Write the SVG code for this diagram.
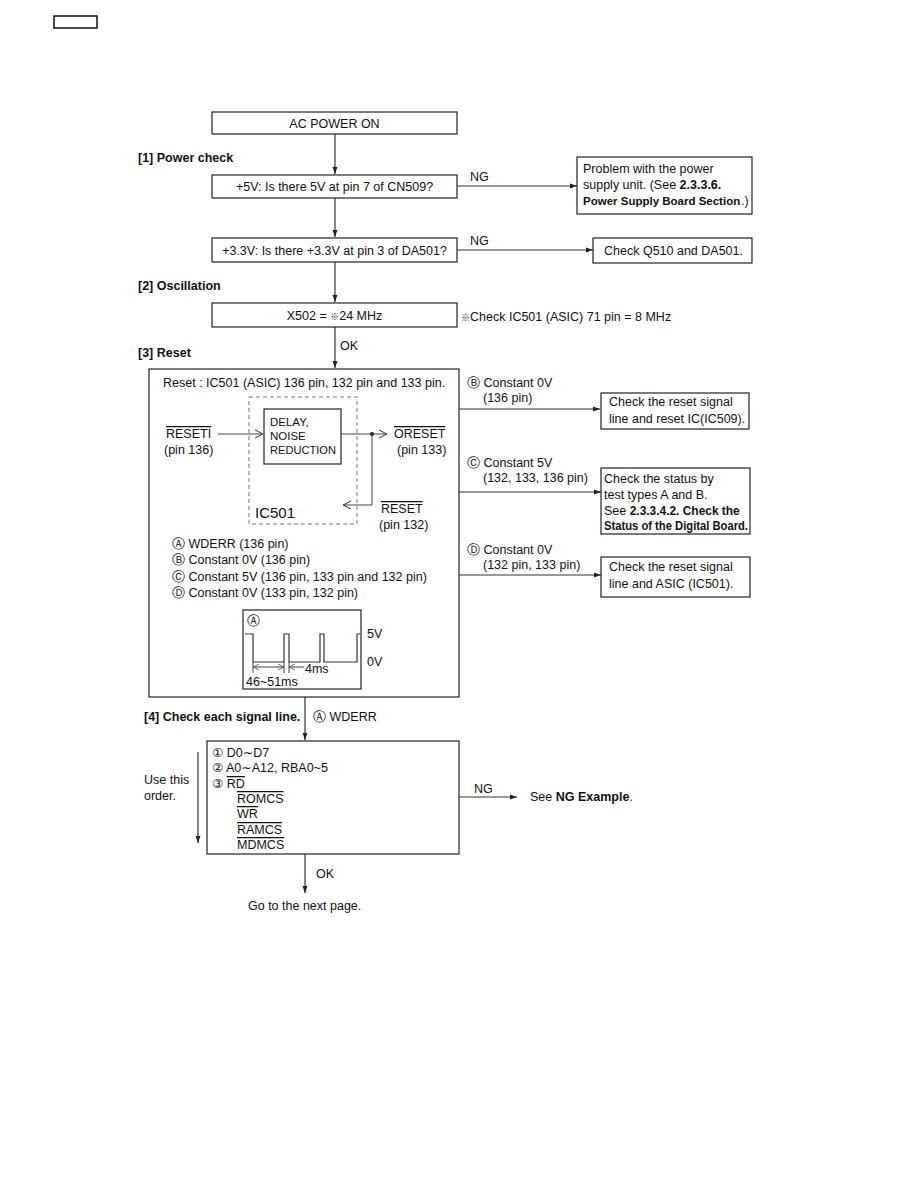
<svg xmlns="http://www.w3.org/2000/svg" width="918" height="1188" viewBox="0 0 918 1188">
<defs>
<style>
text{font-family:"Liberation Sans",Arial,sans-serif;font-size:12.5px;fill:#111}
.b{font-weight:bold}
.c{text-anchor:middle}
.sym{font-family:"DejaVu Sans","Liberation Sans",sans-serif;font-size:12.5px}
.ol{text-decoration:overline}
.box{fill:#fff;stroke:#222;stroke-width:1.2}
.ln{fill:none;stroke:#333;stroke-width:1.2}
.op{fill:none;stroke:#444;stroke-width:1}
.sm{font-size:11.5px}
.lg{font-size:15px}
</style>
<marker id="ah" viewBox="0 0 10 10" refX="10" refY="5" markerWidth="9" markerHeight="7" markerUnits="userSpaceOnUse" orient="auto">
<path d="M0,1.5 L10,5 L0,8.5 z" fill="#222"/>
</marker>
<marker id="oa" viewBox="0 0 10 10" refX="10" refY="5" markerWidth="8" markerHeight="10" markerUnits="userSpaceOnUse" orient="auto">
<path d="M0,0 L10,5 L0,10" fill="none" stroke="#444" stroke-width="1.3"/>
</marker>
<marker id="oas" viewBox="0 0 10 10" refX="10" refY="5" markerWidth="6" markerHeight="7" markerUnits="userSpaceOnUse" orient="auto-start-reverse">
<path d="M0,0 L10,5 L0,10" fill="none" stroke="#444" stroke-width="1.3"/>
</marker>
</defs>
<rect width="918" height="1188" fill="#fff"/>
<rect x="54" y="16" width="43" height="12" fill="none" stroke="#111" stroke-width="1.5"/>

<g id="connectors">
<line class="ln" x1="335" y1="134" x2="335" y2="174" marker-end="url(#ah)"/>
<line class="ln" x1="335" y1="198" x2="335" y2="237" marker-end="url(#ah)"/>
<line class="ln" x1="335" y1="262" x2="335" y2="302" marker-end="url(#ah)"/>
<line class="ln" x1="335" y1="327" x2="335" y2="368" marker-end="url(#ah)"/>
<line class="ln" x1="457" y1="186" x2="577" y2="186" marker-end="url(#ah)"/>
<line class="ln" x1="457" y1="250" x2="593" y2="250" marker-end="url(#ah)"/>
<line class="ln" x1="459" y1="409" x2="600" y2="409" marker-end="url(#ah)"/>
<line class="ln" x1="459" y1="492" x2="601" y2="492" marker-end="url(#ah)"/>
<line class="ln" x1="459" y1="575" x2="601" y2="575" marker-end="url(#ah)"/>
<line class="ln" x1="305" y1="697" x2="305" y2="740" marker-end="url(#ah)"/>
<line class="ln" x1="459" y1="797" x2="517" y2="797" marker-end="url(#ah)"/>
<line class="ln" x1="305" y1="854" x2="305" y2="893" marker-end="url(#ah)"/>
<line class="ln" x1="198" y1="752" x2="198" y2="843" marker-end="url(#ah)"/>
<text x="470" y="181">NG</text>
<text x="470" y="245">NG</text>
<text x="340" y="350">OK</text>
<text x="474" y="793">NG</text>
<text x="316" y="878">OK</text>
</g>

<g id="labels">
<text class="b" x="138" y="162">[1] Power check</text>
<text class="b" x="138" y="290">[2] Oscillation</text>
<text class="b" x="138" y="357">[3] Reset</text>
<text class="b" x="144" y="721">[4] Check each signal line.</text>
<text x="313" y="721"><tspan class="sym">Ⓐ</tspan> WDERR</text>
<text x="461" y="321"><tspan font-size="9" font-family="'Noto Sans CJK JP',sans-serif">※</tspan>Check IC501 (ASIC) 71 pin = 8 MHz</text>
<text x="144" y="784">Use this</text>
<text x="144" y="800">order.</text>
<text x="530" y="801">See <tspan class="b">NG Example</tspan>.</text>
<text x="248" y="910">Go to the next page.</text>
</g>

<g id="n-acpower">
<rect class="box" x="212" y="112" width="245" height="22"/>
<text class="c" x="334.5" y="127.5">AC POWER ON</text>
</g>
<g id="n-5v">
<rect class="box" x="212" y="175" width="245" height="23"/>
<text class="c" x="334.5" y="191">+5V: Is there 5V at pin 7 of CN509?</text>
</g>
<g id="n-33v">
<rect class="box" x="212" y="238" width="245" height="24"/>
<text class="c" x="334.5" y="255">+3.3V: Is there +3.3V at pin 3 of DA501?</text>
</g>
<g id="n-x502">
<rect class="box" x="212" y="303" width="245" height="24"/>
<text class="c" x="334.5" y="320">X502 = <tspan font-size="9" font-family="'Noto Sans CJK JP',sans-serif">※</tspan>24 MHz</text>
</g>
<g id="n-power">
<rect class="box" x="577" y="157" width="175" height="57"/>
<text x="583" y="173">Problem with the power</text>
<text x="583" y="189">supply unit. (See <tspan class="b">2.3.3.6.</tspan></text>
<text x="583" y="205" class="b sm">Power Supply Board Section</text>
<text x="741" y="205">.)</text>
</g>
<g id="n-q510">
<rect class="box" x="593" y="238" width="159" height="25"/>
<text x="604" y="255">Check Q510 and DA501.</text>
</g>

<g id="n-reset">
<rect class="box" x="149" y="369" width="310" height="328"/>
<text x="163" y="387">Reset : IC501 (ASIC) 136 pin, 132 pin and 133 pin.</text>
<rect x="249" y="397" width="108" height="127" fill="none" stroke="#777" stroke-width="1" stroke-dasharray="4,3"/>
<rect class="box" x="264" y="409" width="77" height="55"/>
<text class="sm" x="270" y="426">DELAY,</text>
<text class="sm" x="270" y="440">NOISE</text>
<text class="sm" x="270" y="454" textLength="66" lengthAdjust="spacingAndGlyphs">REDUCTION</text>
<text class="ol" x="166" y="438">RESETI</text>
<text x="164" y="454">(pin 136)</text>
<line class="op" x1="218" y1="434" x2="263" y2="434" marker-end="url(#oa)"/>
<line class="op" x1="341" y1="434" x2="387" y2="434" marker-end="url(#oa)"/>
<circle cx="372" cy="434" r="2" fill="#222"/>
<path class="op" d="M372,434 V505 H343" marker-end="url(#oa)"/>
<text class="ol" x="394" y="438">ORESET</text>
<text x="397" y="454">(pin 133)</text>
<text class="lg" x="255" y="518">IC501</text>
<text class="ol" x="381" y="513">RESET</text>
<text x="379" y="529">(pin 132)</text>
<text x="172" y="548"><tspan class="sym">Ⓐ</tspan> WDERR (136 pin)</text>
<text x="172" y="564"><tspan class="sym">Ⓑ</tspan> Constant 0V (136 pin)</text>
<text x="172" y="581"><tspan class="sym">Ⓒ</tspan> Constant 5V (136 pin, 133 pin and 132 pin)</text>
<text x="172" y="597"><tspan class="sym">Ⓓ</tspan> Constant 0V (133 pin, 132 pin)</text>
<rect class="box" x="243" y="610" width="118" height="79"/>
<text class="sym" x="247" y="625">Ⓐ</text>
<path class="ln" d="M245,634 H253 V662 H284 V634 H289 V662 H320 V634 H324 V662 H357 V634 H360"/>
<path class="op" d="M253,662 V673 M284,662 V673 M289,662 V673"/>
<line class="op" x1="253" y1="667" x2="284" y2="667" marker-start="url(#oas)" marker-end="url(#oas)"/>
<line class="op" x1="304" y1="667" x2="289" y2="667" marker-end="url(#oas)"/>
<text x="305" y="673">4ms</text>
<text x="246" y="686">46~51ms</text>
<text x="367" y="638">5V</text>
<text x="367" y="666">0V</text>
</g>

<g id="n-b">
<text x="467" y="387"><tspan class="sym">Ⓑ</tspan> Constant 0V</text>
<text x="483" y="402">(136 pin)</text>
<rect class="box" x="601" y="393" width="148" height="36"/>
<text x="609" y="406">Check the reset signal</text>
<text x="609" y="423">line and reset IC(IC509).</text>
</g>
<g id="n-c">
<text x="467" y="467"><tspan class="sym">Ⓒ</tspan> Constant 5V</text>
<text x="483" y="482">(132, 133, 136 pin)</text>
<rect class="box" x="601" y="468" width="149" height="66"/>
<text x="604" y="483">Check the status by</text>
<text x="604" y="499">test types A and B.</text>
<text x="604" y="515">See <tspan class="b" textLength="110" lengthAdjust="spacingAndGlyphs">2.3.3.4.2. Check the</tspan></text>
<text x="604" y="530" class="b" textLength="144" lengthAdjust="spacingAndGlyphs">Status of the Digital Board.</text>
</g>
<g id="n-d">
<text x="467" y="554"><tspan class="sym">Ⓓ</tspan> Constant 0V</text>
<text x="483" y="569">(132 pin, 133 pin)</text>
<rect class="box" x="601" y="557" width="149" height="40"/>
<text x="609" y="571">Check the reset signal</text>
<text x="609" y="588">line and ASIC (IC501).</text>
</g>

<g id="n-signals">
<rect class="box" x="207" y="741" width="252" height="113"/>
<text x="212" y="757"><tspan class="sym">①</tspan> D0<tspan class="sym">∼</tspan>D7</text>
<text x="212" y="772"><tspan class="sym">②</tspan> A0<tspan class="sym">∼</tspan>A12, RBA0~5</text>
<text x="212" y="788"><tspan class="sym">③</tspan> <tspan class="ol">RD</tspan></text>
<text class="ol" x="237" y="803">ROMCS</text>
<text class="ol" x="237" y="818">WR</text>
<text class="ol" x="237" y="834">RAMCS</text>
<text class="ol" x="237" y="849">MDMCS</text>
</g>
</svg>
